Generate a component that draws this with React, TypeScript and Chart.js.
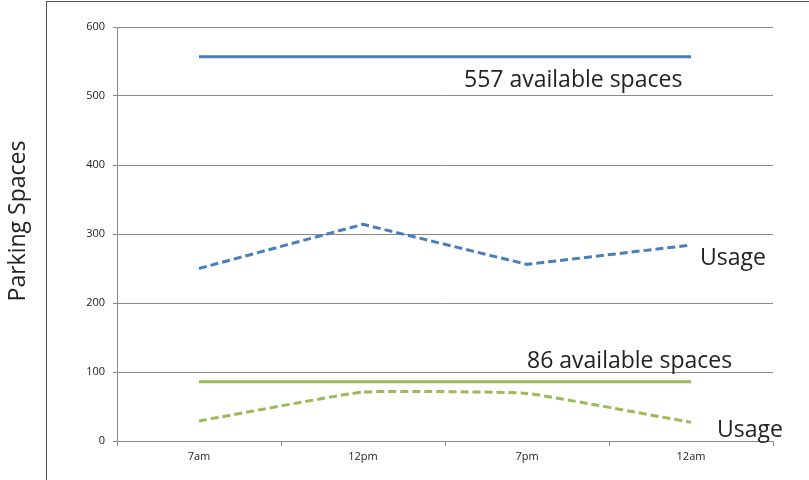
import React, { useEffect, useRef } from "react";
import { Chart, registerables } from "chart.js";

Chart.register(...registerables);

const categories = ["7am", "12pm", "7pm", "12am"];
const blueCapacity = [557, 557, 557, 557];
const blueUsage = [250, 314, 256, 284];
const greenCapacity = [86, 86, 86, 86];
const greenUsage = [29, 71, 69, 27];
const yTicks = [0, 100, 200, 300, 400, 500, 600];

const annotations = [
  { text: "557 available spaces", x: 1.616, y: 513 },
  { text: "Usage", x: 3.055, y: 255 },
  { text: "86 available spaces", x: 2.0, y: 106 },
  { text: "Usage", x: 3.159, y: 6 },
];

const FONT = "'Open Sans', 'Liberation Sans', sans-serif";
const BLUE = "#4a7ebb";
const GREEN = "#9bbb59";
const GRID = "#8a8a8a";

const textPlugin = {
  id: "textAnnotations",
  afterDraw(chart: any) {
    const { ctx, scales } = chart;
    ctx.save();
    ctx.fillStyle = "#222";
    ctx.font = `23px ${FONT}`;
    ctx.textAlign = "left";
    ctx.textBaseline = "alphabetic";
    for (const a of annotations) {
      const px = scales.x.getPixelForValue(a.x);
      const py = scales.y.getPixelForValue(a.y);
      ctx.fillText(a.text, px, py);
    }
    // y-axis title
    ctx.translate(18, 221);
    ctx.rotate(-Math.PI / 2);
    ctx.textAlign = "center";
    ctx.textBaseline = "middle";
    ctx.font = `23px ${FONT}`;
    ctx.fillStyle = "#222";
    ctx.fillText("Parking Spaces", 0, 0);
    ctx.restore();
  },
};

export default function App() {
  const ref = useRef<HTMLCanvasElement>(null);
  useEffect(() => {
    if (!ref.current) return;
    const chart = new Chart(ref.current, {
      type: "line",
      data: {
        labels: categories,
        datasets: [
          {
            data: blueCapacity,
            borderColor: BLUE,
            borderWidth: 3,
            pointRadius: 0,
            tension: 0,
          },
          {
            data: blueUsage,
            borderColor: BLUE,
            borderWidth: 3,
            borderDash: [8, 4],
            pointRadius: 0,
            tension: 0,
          },
          {
            data: greenCapacity,
            borderColor: GREEN,
            borderWidth: 3,
            pointRadius: 0,
            tension: 0,
          },
          {
            data: greenUsage,
            borderColor: GREEN,
            borderWidth: 3,
            borderDash: [8, 4],
            pointRadius: 0,
            tension: 0.1,
          },
        ],
      },
      options: {
        animation: false,
        responsive: false,
        maintainAspectRatio: false,
        devicePixelRatio: 1,
        layout: { padding: { left: 0, top: 27, right: 36, bottom: 0 } },
        plugins: {
          legend: { display: false },
          tooltip: { enabled: false },
        },
        scales: {
          x: {
            offset: true,
            afterFit: (s: any) => {
              s.height = 39;
            },
            grid: {
              offset: true,
              drawOnChartArea: false,
              drawTicks: true,
              tickLength: 5,
              color: GRID,
            },
            border: { color: GRID, width: 1 },
            ticks: {
              color: "#222",
              font: { family: FONT, size: 11 },
              padding: 4,
              maxRotation: 0,
            },
          },
          y: {
            min: 0,
            max: 600,
            afterFit: (s: any) => {
              s.width = 117;
            },
            afterBuildTicks: (s: any) => {
              s.ticks = yTicks.map((v) => ({ value: v }));
            },
            grid: {
              color: GRID,
              tickLength: 4,
            },
            border: { color: GRID, width: 1 },
            ticks: {
              color: "#222",
              font: { family: FONT, size: 11 },
              padding: 8,
            },
          },
        },
      },
      plugins: [textPlugin],
    });
    return () => chart.destroy();
  }, []);

  return (
    <div
      style={{
        position: "fixed",
        left: 0,
        top: 0,
        width: 809,
        height: 480,
        overflow: "hidden",
        background: "#fff",
      }}
    >
      <div
        style={{
          position: "absolute",
          left: 46,
          top: 1,
          width: 800,
          height: 600,
          border: "1px solid #555",
        }}
      />
      <canvas
        ref={ref}
        width={809}
        height={480}
        style={{ position: "absolute", left: 0, top: 0, width: 809, height: 480 }}
      />
    </div>
  );
}
